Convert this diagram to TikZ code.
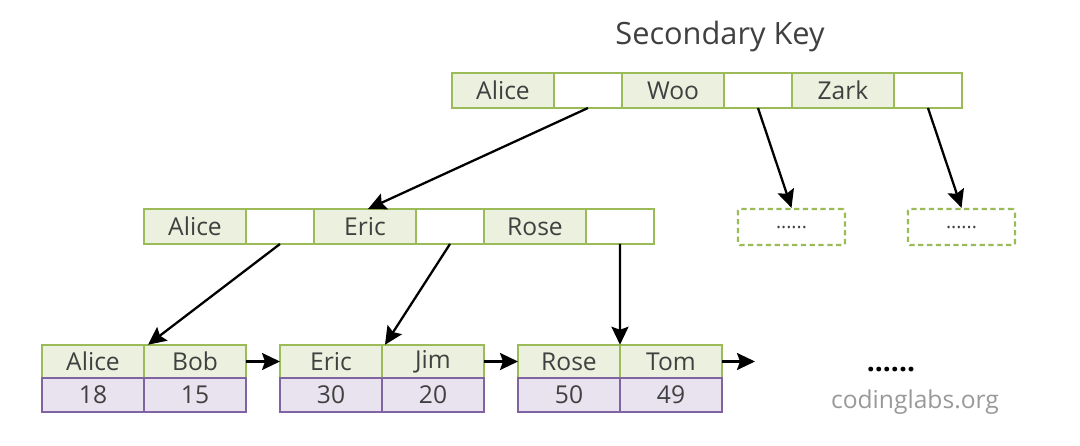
\documentclass[tikz,border=0pt]{standalone}
\usepackage{fontspec}
\setmainfont{Open Sans}
\usepackage{xcolor}
\usetikzlibrary{arrows.meta}

\definecolor{keyborder}{HTML}{9BBB59}
\definecolor{keyfill}{HTML}{EBF1DE}
\definecolor{valborder}{HTML}{8064A2}
\definecolor{valfill}{HTML}{E8E3EE}
\definecolor{celltext}{HTML}{404040}

\tikzset{
    cell/.style={draw=keyborder, line width=1.3pt, inner sep=0pt, outer sep=0pt,
        minimum height=0.7cm, text=celltext, font=\fontsize{14}{16}\selectfont},
    keycell/.style={cell, fill=keyfill, minimum width=2.04cm},
    ptrcell/.style={cell, fill=white, minimum width=1.36cm},
    leafkey/.style={cell, fill=keyfill, minimum width=2.04cm, minimum height=0.67cm},
    leafval/.style={cell, draw=valborder, fill=valfill, minimum width=2.04cm, minimum height=0.68cm},
    dashbox/.style={draw=keyborder, line width=1.3pt, dash pattern=on 3pt off 2pt,
        rounded corners=1pt, minimum width=2.14cm, minimum height=0.72cm,
        font=\fontsize{11}{12}\selectfont, text=celltext},
    link/.style={-{Stealth[length=3.6mm,width=3.4mm,inset=0.6mm]}, line width=1.3pt, black}
}

\begin{document}
\begin{tikzpicture}[x=0.02cm, y=-0.02cm]
    \useasboundingbox (0,0) rectangle (1080,446);

    % title
    \node[font=\fontsize{17.5}{20}\selectfont, text=celltext] (title) at (720,37) {Secondary Key};

    % root
    \node[keycell] (r1) at (503,90.5) {Alice};
    \node[ptrcell] (r2) at (588,90.5) {};
    \node[keycell] (r3) at (673,90.5) {Woo};
    \node[ptrcell] (r4) at (758,90.5) {};
    \node[keycell] (r5) at (843,90.5) {Zark};
    \node[ptrcell] (r6) at (928,90.5) {};

    % inner
    \node[keycell] (m1) at (195,226.5) {Alice};
    \node[ptrcell] (m2) at (280,226.5) {};
    \node[keycell] (m3) at (365,226.5) {Eric};
    \node[ptrcell] (m4) at (450,226.5) {};
    \node[keycell] (m5) at (535,226.5) {Rose};
    \node[ptrcell] (m6) at (620,226.5) {};

    \node[dashbox] (d1) at (791.5,227) {......};
    \node[dashbox] (d2) at (961.5,227) {......};

    % leaves
    \node[leafkey] (a1) at (93,361.5) {Alice};
    \node[leafkey] (a2) at (195,361.5) {Bob};
    \node[leafval] (a3) at (93,395) {18};
    \node[leafval] (a4) at (195,395) {15};

    \node[leafkey] (b1) at (331,361.5) {Eric};
    \node[leafkey] (b2) at (433,361.5) {Jim};
    \node[leafval] (b3) at (331,395) {30};
    \node[leafval] (b4) at (433,395) {20};

    \node[leafkey] (c1) at (569,361.5) {Rose};
    \node[leafkey] (c2) at (671,361.5) {Tom};
    \node[leafval] (c3) at (569,395) {50};
    \node[leafval] (c4) at (671,395) {49};

    \coordinate (next) at (755,361.5);

    % pointers
    \draw[link] (r2.south) -- ([xshift=0.06cm]m3.north);
    \draw[link] (r4.south) -- (d1.north);
    \draw[link] (r6.south) -- (d2.north);
    \draw[link] (m2.south) -- ([xshift=0.08cm]a1.north east);
    \draw[link] (m4.south) -- ([xshift=0.06cm]b1.north east);
    \draw[link] (m6.south) -- (c1.north east);
    \draw[link] (a2.east) -- (b1.west);
    \draw[link] (b2.east) -- (c1.west);
    \draw[link] (c2.east) -- (next);

    % footer
    \node[font=\fontsize{16}{18}\selectfont\bfseries] (dots) at (891,370) {......};
    \node[font=\fontsize{14}{16}\selectfont, text=black!40] (site) at (915,402) {codinglabs.org};
\end{tikzpicture}
\end{document}
